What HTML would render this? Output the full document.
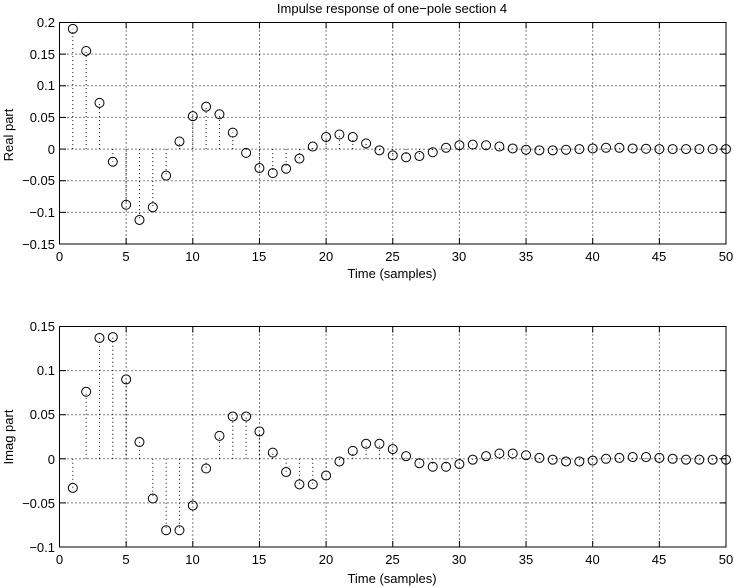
<!DOCTYPE html>
<html><head><style>body{margin:0;background:#fff}svg{display:block}text{font-family:"Liberation Sans",Arial,sans-serif;font-size:13px;fill:#000}</style></head><body>
<svg id="s" width="734" height="588" xmlns="http://www.w3.org/2000/svg">
<rect width="734" height="588" fill="#fff"/>
<text x="392" y="13" text-anchor="middle" font-size="12">Impulse response of one−pole section 4</text>
<g text-anchor="end">
<text x="55" y="27">0.2</text><text x="55" y="59">0.15</text><text x="55" y="90">0.1</text><text x="55" y="122">0.05</text><text x="55" y="154">0</text><text x="55" y="185">−0.05</text><text x="55" y="217">−0.1</text><text x="55" y="249">−0.15</text>
<text x="55" y="331">0.15</text><text x="55" y="375">0.1</text><text x="55" y="419">0.05</text><text x="55" y="464">0</text><text x="55" y="508">−0.05</text><text x="55" y="552">−0.1</text>
</g>
<g text-anchor="middle">
<text x="59.5" y="261">0</text><text x="126" y="261">5</text><text x="192.5" y="261">10</text><text x="259" y="261">15</text><text x="326" y="261">20</text><text x="392.5" y="261">25</text><text x="459" y="261">30</text><text x="526" y="261">35</text><text x="592.5" y="261">40</text><text x="659" y="261">45</text><text x="726" y="261">50</text>
<text x="59.5" y="564">0</text><text x="126" y="564">5</text><text x="192.5" y="564">10</text><text x="259" y="564">15</text><text x="326" y="564">20</text><text x="392.5" y="564">25</text><text x="459" y="564">30</text><text x="526" y="564">35</text><text x="592.5" y="564">40</text><text x="659" y="564">45</text><text x="726" y="564">50</text>
<text x="392" y="278">Time (samples)</text><text x="392" y="583">Time (samples)</text>
<text transform="translate(13,135) rotate(-90)">Real part</text>
<text transform="translate(13,437) rotate(-90)">Imag part</text>
</g>
<g id="g"></g>
</svg>
<script>
var re=[0.19,0.155,0.073,-0.02,-0.088,-0.112,-0.092,-0.042,0.012,0.052,0.067,0.055,0.026,-0.006,-0.03,-0.038,-0.031,-0.015,0.004,0.019,0.023,0.019,0.009,-0.002,-0.01,-0.013,-0.011,-0.005,0.002,0.006,0.007,0.006,0.004,0.001,-0.001,-0.002,-0.002,-0.001,0,0.001,0.002,0.002,0.001,0.0005,0,0,0,0,0,0];
var im=[-0.033,0.076,0.137,0.138,0.09,0.019,-0.045,-0.081,-0.081,-0.053,-0.011,0.026,0.048,0.048,0.031,0.007,-0.015,-0.029,-0.029,-0.019,-0.003,0.009,0.017,0.017,0.011,0.003,-0.005,-0.009,-0.009,-0.006,-0.001,0.003,0.006,0.006,0.004,0.001,-0.001,-0.003,-0.003,-0.002,0,0.001,0.002,0.002,0.001,0,-0.001,-0.001,-0.001,-0.001];
var h='';
function X(n){return 59.5+n*13.33;}
function ax(top,bot,ymax,ymin,data){
 var k=(bot-top)/(ymax-ymin);function Y(v){return top+(ymax-v)*k;}
 for(var i=1;i<10;i++){var x=X(i*5);h+='<line x1="'+x+'" y1="'+top+'" x2="'+x+'" y2="'+bot+'" stroke="#000" stroke-width="1" stroke-dasharray="1,3"/>';
  h+='<line x1="'+x+'" y1="'+top+'" x2="'+x+'" y2="'+(top+6)+'" stroke="#000"/><line x1="'+x+'" y1="'+bot+'" x2="'+x+'" y2="'+(bot-6)+'" stroke="#000"/>';}
 for(var v=ymin+0.05;v<ymax-0.01;v+=0.05){var y=Y(v);h+='<line x1="59.5" y1="'+y+'" x2="726" y2="'+y+'" stroke="#000" stroke-width="1" stroke-dasharray="1,3"/>';
  h+='<line x1="59.5" y1="'+y+'" x2="66" y2="'+y+'" stroke="#000"/><line x1="720" y1="'+y+'" x2="726" y2="'+y+'" stroke="#000"/>';}
 var z=Y(0);
 data.forEach(function(v,i){var x=X(i+1),y=Y(v);h+='<line x1="'+x+'" y1="'+z+'" x2="'+x+'" y2="'+y+'" stroke="#000" stroke-dasharray="1,3"/><circle cx="'+x+'" cy="'+y+'" r="4.5" fill="none" stroke="#000"/>';});
 h+='<rect x="59.5" y="'+top+'" width="666.5" height="'+(bot-top)+'" fill="none" stroke="#000"/>';
}
ax(22.5,244,0.2,-0.15,re);ax(326.5,547,0.15,-0.1,im);
document.getElementById('g').innerHTML=h;
</script>
</body></html>
